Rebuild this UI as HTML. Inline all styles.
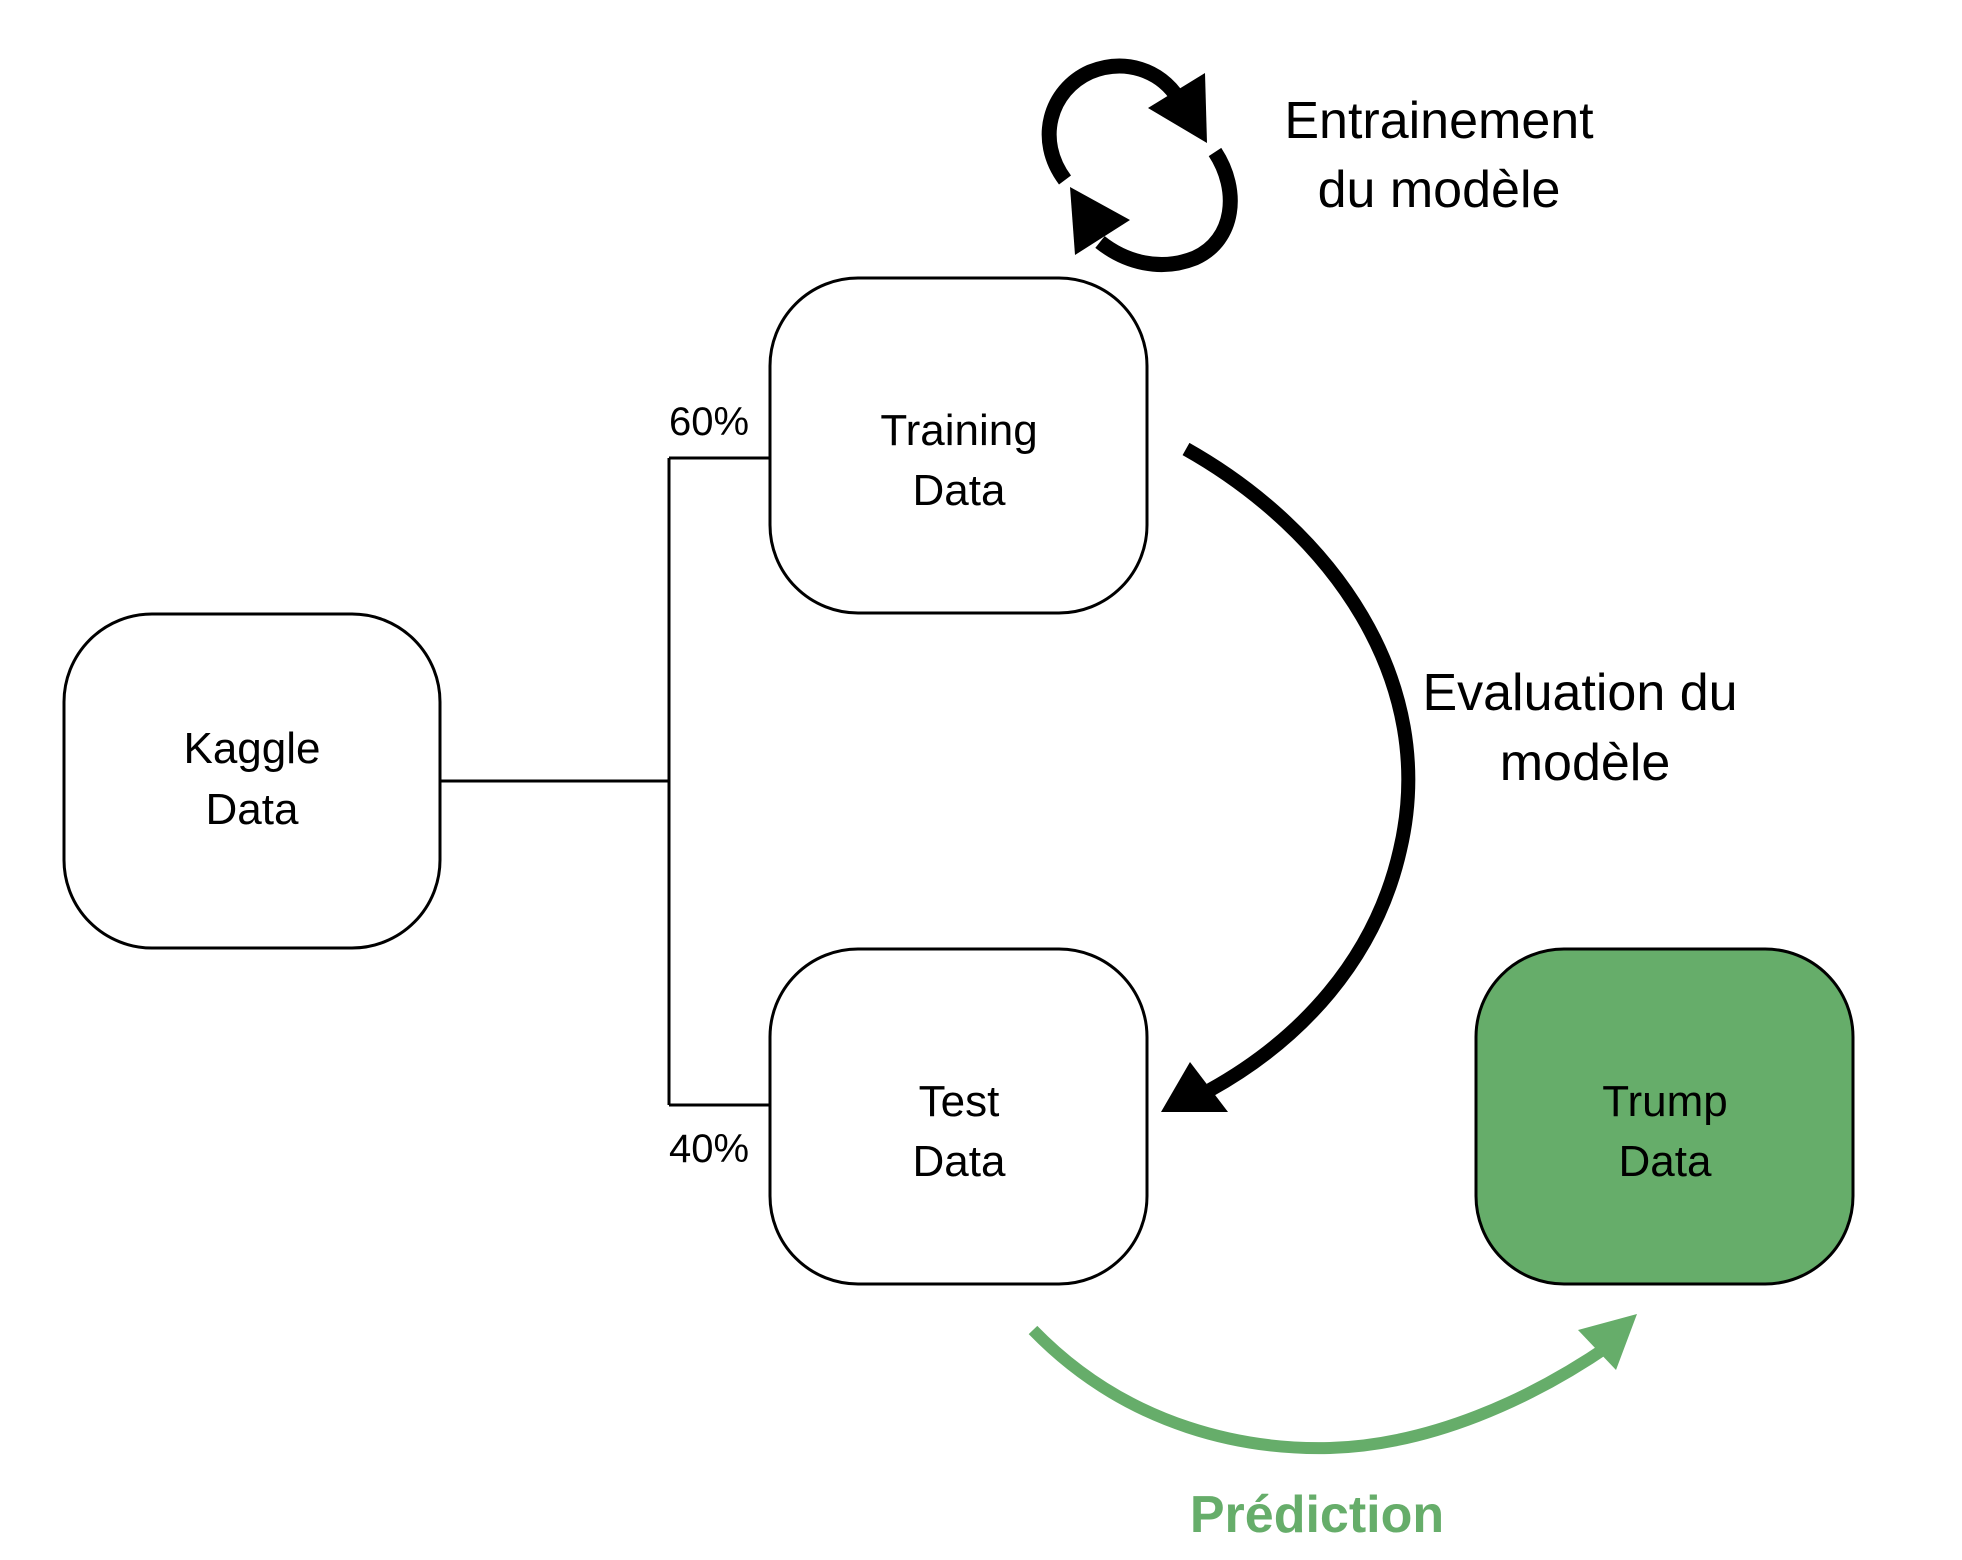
<!DOCTYPE html>
<html><head><meta charset="utf-8"><style>
html,body{margin:0;padding:0;background:#fff;}
svg{display:block;}
text{font-family:"Liberation Sans",sans-serif;}
</style></head><body>
<svg width="1962" height="1560" viewBox="0 0 1962 1560" xmlns="http://www.w3.org/2000/svg">
<g fill="#fff" stroke="#000" stroke-width="3">
<rect x="64" y="614" width="376" height="334" rx="88"/>
<rect x="770" y="278" width="377" height="335" rx="88"/>
<rect x="770" y="949" width="377" height="335" rx="88"/>
<rect x="1476" y="949" width="377" height="335" rx="88" fill="#66ad6a"/>
</g>
<g fill="none" stroke="#000" stroke-width="3">
<path d="M440 781 H669 M669 458 V1105 M669 458 H770 M669 1105 H770"/>
</g>
<g font-size="44" text-anchor="middle" fill="#000">
<text x="252" y="763">Kaggle</text><text x="252" y="824">Data</text>
<text x="959" y="445">Training</text><text x="959" y="505">Data</text>
<text x="959" y="1116">Test</text><text x="959" y="1176">Data</text>
<text x="1665" y="1116">Trump</text><text x="1665" y="1176">Data</text>
</g>
<g font-size="40" text-anchor="middle">
<text x="709" y="435">60%</text><text x="709" y="1162">40%</text>
</g>
<g font-size="52" text-anchor="middle">
<text x="1439" y="138">Entrainement</text><text x="1439" y="207">du modèle</text>
<text x="1580" y="710">Evaluation du</text><text x="1585" y="780">modèle</text>
</g>
<text x="1317" y="1532" font-size="52" font-weight="bold" text-anchor="middle" fill="#66ad6a">Prédiction</text>
<path d="M1186 449 C1330 530 1440 680 1400 850 C1375 960 1300 1040 1210 1090" fill="none" stroke="#000" stroke-width="14"/>
<polygon points="1161,1112 1190,1062 1228,1112" fill="#000"/>
<path d="M1033 1330 C1130 1430 1250 1450 1330 1448 C1430 1445 1530 1400 1610 1345" fill="none" stroke="#66ad6a" stroke-width="12"/>
<polygon points="1637,1314 1578,1330 1616,1370" fill="#66ad6a"/>
<path d="M1065 180 C1035 140 1050 90 1090 72 C1125 58 1160 70 1178 98" fill="none" stroke="#000" stroke-width="15"/>
<polygon points="1148,108 1205,73 1207,143" fill="#000"/>
<path d="M1215 152 C1240 190 1235 240 1195 258 C1160 272 1125 262 1100 242" fill="none" stroke="#000" stroke-width="15"/>
<polygon points="1130,220 1070,187 1075,255" fill="#000"/>
</svg>
</body></html>
